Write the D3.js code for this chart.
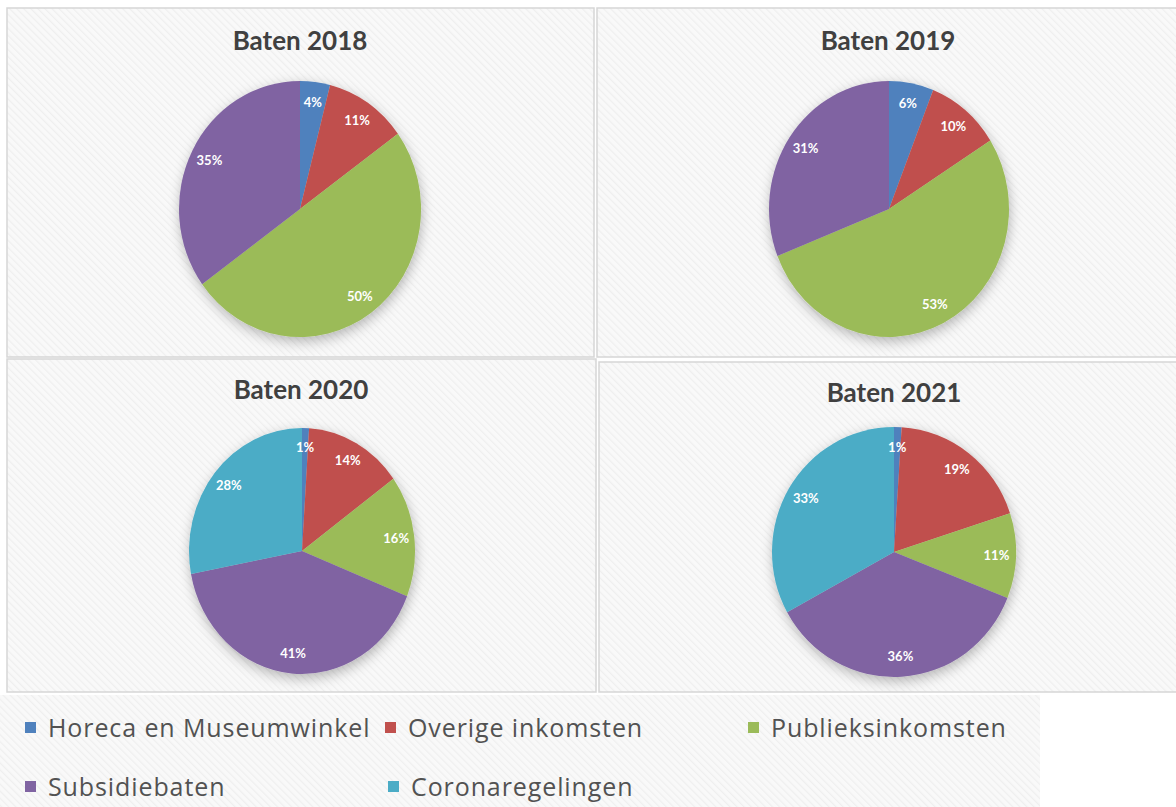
<!DOCTYPE html>
<html>
<head>
<meta charset="utf-8">
<script src="https://cdn.jsdelivr.net/npm/d3@7"></script>
<style>
  body { margin: 0; background: #fff; }
  svg { display: block; }
</style>
</head>
<body>
<svg id="chart" width="1176" height="807"></svg>
<script>
// Categories and colours (same order as the slices, clockwise from 12 o'clock)
const categories = ["Horeca en Museumwinkel", "Overige inkomsten", "Publieksinkomsten", "Subsidiebaten", "Coronaregelingen"];
const colors = ["#4F81BD", "#C0504D", "#9BBB59", "#8064A2", "#4BACC6"];

// Share of income per year, in percent
const baten2018 = [4, 11, 50, 35, 0];
const baten2019 = [6, 10, 53, 31, 0];
const baten2020 = [1, 14, 16, 41, 28];
const baten2021 = [1, 19, 11, 36, 33];

const titles = ["Baten 2018", "Baten 2019", "Baten 2020", "Baten 2021"];
const series = [baten2018, baten2019, baten2020, baten2021];

// Panel frames and pie geometry (pies are slightly taller than wide)
const panels = [
  { x: 7,   y: 8,   w: 587, h: 349, tx: 300, ty: 50,  cx: 300, cy: 209, rx: 121, ry: 128 },
  { x: 597, y: 8,   w: 585, h: 349, tx: 888, ty: 50,  cx: 889, cy: 209, rx: 120, ry: 128 },
  { x: 7,   y: 359, w: 589, h: 333, tx: 301, ty: 399, cx: 302, cy: 551, rx: 113, ry: 123 },
  { x: 599, y: 362, w: 583, h: 330, tx: 894, ty: 402, cx: 894, cy: 552, rx: 122, ry: 125 }
];

var svg = d3.select("svg#chart");

var defs = svg.append("defs");

// light diagonal hatch used on the chart backgrounds
var hatch = defs.append("pattern")
    .attr("id", "hatch")
    .attr("width", 5).attr("height", 5)
    .attr("patternUnits", "userSpaceOnUse")
    .attr("patternTransform", "rotate(-45)");
hatch.append("rect").attr("width", 5).attr("height", 5).attr("fill", "#f9f9f9");
hatch.append("line")
    .attr("x1", 0).attr("y1", 0).attr("x2", 0).attr("y2", 5)
    .attr("stroke", "#efefef").attr("stroke-width", 2.5);

var shadow = defs.append("filter")
    .attr("id", "shadow")
    .attr("x", "-20%").attr("y", "-20%")
    .attr("width", "140%").attr("height", "140%");
shadow.append("feDropShadow")
    .attr("dx", 1).attr("dy", 4)
    .attr("stdDeviation", 6)
    .attr("flood-color", "#000")
    .attr("flood-opacity", 0.28);

var pie = d3.pie().sort(null).value(d => d);

panels.forEach(function(p, i) {

  var g = svg.append("g").attr("class", "panel");

  g.append("rect")
      .attr("x", p.x).attr("y", p.y)
      .attr("width", p.w).attr("height", p.h)
      .attr("fill", "url(#hatch)")
      .attr("stroke", "#d6d6d6")
      .attr("stroke-width", 1.5);

  g.append("text")
      .attr("x", p.tx).attr("y", p.ty)
      .attr("text-anchor", "middle")
      .style("font-family", "Lato, 'Open Sans', sans-serif")
      .style("font-weight", "bold")
      .style("font-size", "26px")
      .style("fill", "#404040")
      .text(titles[i]);

  var arcs = pie(series[i]);
  var arc = d3.arc().innerRadius(0).outerRadius(p.rx);
  var labelArc = d3.arc().innerRadius(p.rx * 0.84).outerRadius(p.rx * 0.84);
  var sy = p.ry / p.rx;

  // pie drawn as a circle and squashed into an ellipse
  g.append("g")
      .attr("transform", "translate(" + p.cx + "," + p.cy + ") scale(1," + sy + ")")
      .attr("filter", "url(#shadow)")
      .selectAll("path")
      .data(arcs.filter(d => d.value > 0))
      .enter()
      .append("path")
      .attr("d", arc)
      .attr("fill", d => colors[d.index]);

  g.append("g")
      .selectAll("text")
      .data(arcs.filter(d => d.value > 0))
      .enter()
      .append("text")
      .attr("x", d => p.cx + labelArc.centroid(d)[0])
      .attr("y", d => p.cy + labelArc.centroid(d)[1] * sy)
      .attr("dy", "0.35em")
      .attr("text-anchor", "middle")
      .style("font-family", "Lato, 'Open Sans', sans-serif")
      .style("font-weight", "bold")
      .style("font-size", "13px")
      .style("fill", "#fff")
      .text(d => d.value + "%");
});

// Legend, two rows under the charts
const legendX = [25, 385, 748, 25, 388];
const legendY = [728, 728, 728, 787, 787];

var legend = svg.append("g").attr("class", "legend");

legend.append("rect")
    .attr("x", 0).attr("y", 695)
    .attr("width", 1040).attr("height", 112)
    .attr("fill", "url(#hatch)");

var items = legend.selectAll("g.item")
    .data(categories)
    .enter()
    .append("g")
    .attr("class", "item")
    .attr("transform", (d, i) => "translate(" + legendX[i] + "," + legendY[i] + ")");

items.append("rect")
    .attr("x", 0).attr("y", -6)
    .attr("width", 11).attr("height", 11)
    .attr("fill", (d, i) => colors[i]);

items.append("text")
    .attr("x", 23)
    .attr("dy", "0.35em")
    .style("font-family", "'Open Sans', sans-serif")
    .style("font-size", "25px")
    .style("letter-spacing", "0.9px")
    .style("fill", "#525252")
    .text(d => d);
</script>
</body>
</html>
